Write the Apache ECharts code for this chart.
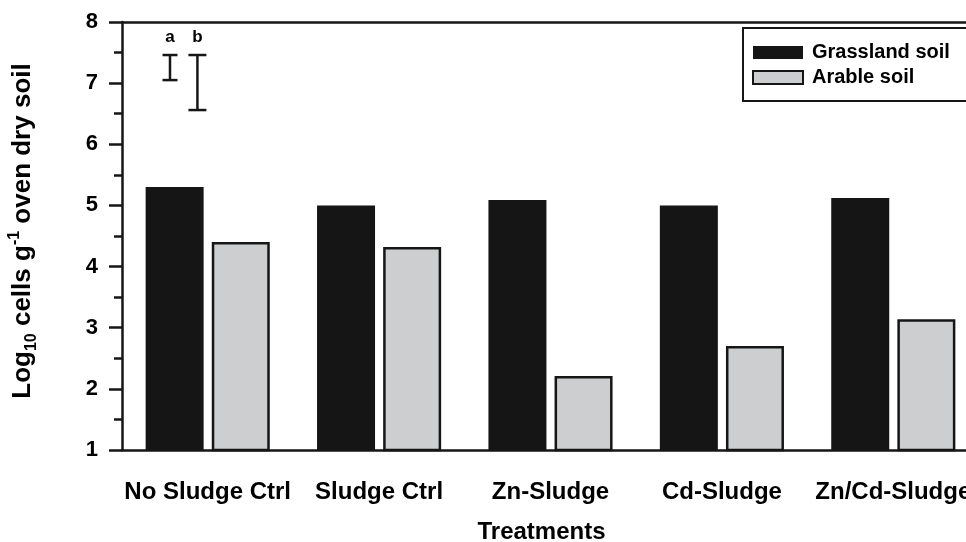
<!DOCTYPE html>
<html>
<head>
<meta charset="utf-8">
<script src="https://cdn.jsdelivr.net/npm/echarts@6/dist/echarts.min.js"></script>
<style>
  html, body { margin: 0; padding: 0; background: #fff; }
  #chart { width: 966px; height: 542px; }
</style>
</head>
<body>
<div id="chart"></div>
<script>
// Treatments along the x axis
const categories = ['No Sludge Ctrl', 'Sludge Ctrl', 'Zn-Sludge', 'Cd-Sludge', 'Zn/Cd-Sludge'];
// Log10 cells per g oven dry soil
const grasslandSoil = [5.30, 5.00, 5.09, 5.00, 5.12];
const arableSoil = [4.40, 4.32, 2.21, 2.70, 3.14];
// Error bar keys (a, b): position within the first category slot, low and high values
const errorLabels = ['a', 'b'];
const errorPos = [0.28, 0.44];
const errorLow = [7.05, 6.56];
const errorHigh = [7.46, 7.46];
const yTicks = [1, 2, 3, 4, 5, 6, 7, 8];

const INK = '#161616';
const FONT = '"Liberation Sans", Arial, Helvetica, sans-serif';

const chart = echarts.init(document.getElementById('chart'), null, { renderer: 'canvas' });

const errorData = errorLabels.map((l, i) => [errorPos[i], errorLow[i], errorHigh[i], l]);

chart.setOption({
  animation: false,
  backgroundColor: '#ffffff',
  // plot area runs past the right edge of the page
  grid: { left: 122, top: 22, width: 857, bottom: 92, containLabel: false, outerBoundsMode: 'none' },
  legend: {
    left: 743, top: 28,
    orient: 'vertical',
    borderColor: INK, borderWidth: 2,
    padding: [14, 40, 13, 9],
    icon: 'rect',
    itemWidth: 50, itemHeight: 13, itemGap: 4,
    textStyle: { fontFamily: FONT, fontWeight: 'bold', fontSize: 20, color: '#000', lineHeight: 21, padding: [0, 0, 0, 4] },
    data: ['Grassland soil', 'Arable soil']
  },
  xAxis: [
    {
      type: 'category', data: categories, position: 'bottom',
      boundaryGap: true,
      axisLine: { lineStyle: { color: INK, width: 2.5 } },
      axisTick: { alignWithLabel: true, length: 13, lineStyle: { color: INK, width: 2.5 } },
      axisLabel: { fontFamily: FONT, fontWeight: 'bold', fontSize: 24, color: '#000', margin: 30, interval: 0, hideOverlap: false },
      name: 'Treatments', nameLocation: 'middle', nameGap: 70,
      nameTextStyle: { fontFamily: FONT, fontWeight: 'bold', fontSize: 24, color: '#000', padding: [0, 18, 0, 0] },
      splitLine: { show: false }
    },
    {
      type: 'category', data: categories, position: 'top',
      axisLine: { show: true, onZero: false, lineStyle: { color: INK, width: 2.5 } },
      axisTick: { show: false }, axisLabel: { show: false }, splitLine: { show: false }
    },
    {
      type: 'value', min: 0, max: categories.length, show: false
    }
  ],
  yAxis: {
    type: 'value', min: yTicks[0], max: yTicks[yTicks.length - 1], interval: 1,
    axisLine: { show: true, lineStyle: { color: INK, width: 2.5 } },
    axisTick: { show: true, length: 13, lineStyle: { color: INK, width: 2.5 } },
    minorTick: { show: true, splitNumber: 2, length: 8, lineStyle: { color: INK, width: 2.5 } },
    splitLine: { show: false },
    axisLabel: { fontFamily: FONT, fontWeight: 'bold', fontSize: 22, color: '#000', margin: 24 },
    name: 'Log{sub|10} cells g{sup|-1} oven dry soil',
    nameLocation: 'middle', nameRotate: 90, nameGap: 84,
    nameTextStyle: {
      fontFamily: FONT, fontWeight: 'bold', fontSize: 26, color: '#000', lineHeight: 30, padding: [0, 0, 0, 10],
      rich: {
        sub: { fontFamily: FONT, fontWeight: 'bold', fontSize: 16, color: '#000', verticalAlign: 'bottom', lineHeight: 30, padding: [0, 0, -2, 0] },
        sup: { fontFamily: FONT, fontWeight: 'bold', fontSize: 16, color: '#000', verticalAlign: 'top', lineHeight: 30, padding: [-1, 0, 0, 0] }
      }
    }
  },
  series: [
    {
      name: 'Grassland soil', type: 'bar', data: grasslandSoil,
      barWidth: 58, barGap: '14%',
      itemStyle: { color: '#151515', borderWidth: 0 }
    },
    {
      name: 'Arable soil', type: 'bar', data: arableSoil,
      barWidth: 58,
      itemStyle: { color: '#cdcecf', borderColor: INK, borderWidth: 2.5 }
    },
    {
      name: 'errors', type: 'custom', xAxisIndex: 2, yAxisIndex: 0,
      data: errorData,
      silent: true,
      renderItem: function (params, api) {
        const x = api.value(0);
        const lo = api.coord([x, api.value(1)]);
        const hi = api.coord([x, api.value(2)]);
        const half = params.dataIndex === 0 ? 7.5 : 9;
        const style = { stroke: INK, lineWidth: 2.5 };
        return {
          type: 'group',
          children: [
            { type: 'line', shape: { x1: lo[0], y1: lo[1], x2: hi[0], y2: hi[1] }, style },
            { type: 'line', shape: { x1: lo[0] - half, y1: lo[1], x2: lo[0] + half, y2: lo[1] }, style },
            { type: 'line', shape: { x1: hi[0] - half, y1: hi[1], x2: hi[0] + half, y2: hi[1] }, style },
            {
              type: 'text',
              style: {
                x: hi[0], y: hi[1] - 9,
                text: api.value(3),
                fill: '#000',
                font: 'bold 17px ' + FONT,
                align: 'center', verticalAlign: 'bottom'
              }
            }
          ]
        };
      }
    }
  ]
});
</script>
</body>
</html>
